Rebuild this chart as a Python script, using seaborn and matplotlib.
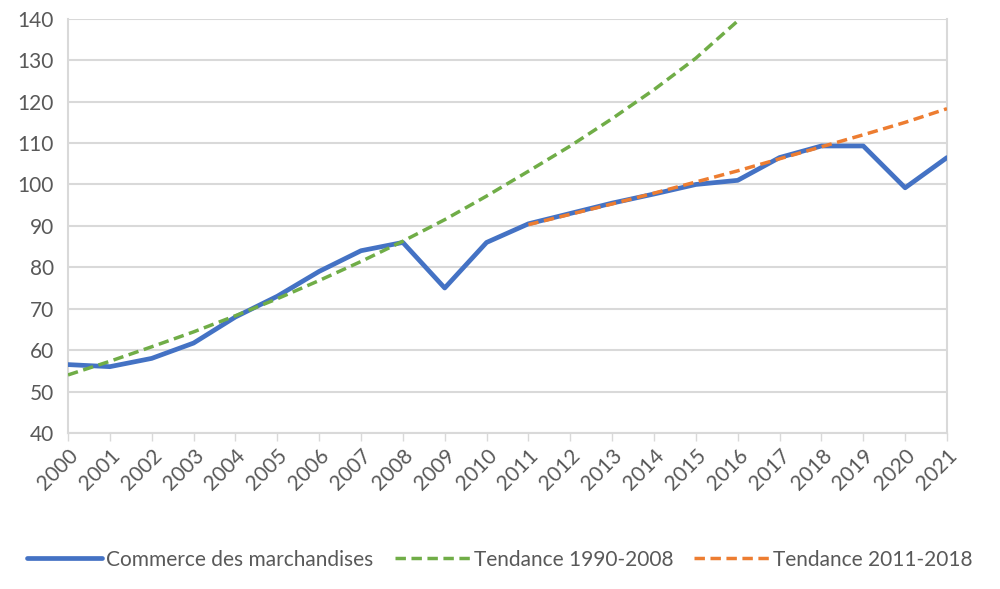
import matplotlib
matplotlib.use("Agg")
import matplotlib.pyplot as plt
import seaborn as sns
import pandas as pd

years = list(range(2000, 2022))
commerce = [56.5, 56.0, 58.0, 61.7, 68.0, 73.0, 79.0, 84.0, 86.0, 75.0, 86.0,
            90.5, 93.0, 95.5, 97.7, 100.0, 101.0, 106.5, 109.3, 109.3, 99.2, 106.5]

trend_1990_years = list(range(2000, 2017))
trend_1990 = [54.0, 57.3, 60.8, 64.4, 68.3, 72.4, 76.8, 81.4, 86.3, 91.5, 97.2,
              103.2, 109.3, 115.9, 122.9, 130.5, 139.5]

trend_2011_years = list(range(2011, 2022))
trend_2011 = [90.3, 92.8, 95.3, 97.9, 100.6, 103.3, 106.2, 109.1, 112.0, 115.0, 118.3]

blue = "#4472C4"
green = "#70AD47"
orange = "#ED7D31"
grey_text = "#595959"
grid_col = "#D9D9D9"

sns.set_theme(style="white")
plt.rcParams['font.family'] = ['Lato', 'DejaVu Sans']

df_main = pd.DataFrame({'year': years, 'value': commerce})
df_g = pd.DataFrame({'year': trend_1990_years, 'value': trend_1990})
df_o = pd.DataFrame({'year': trend_2011_years, 'value': trend_2011})

fig = plt.figure(figsize=(10, 5.89), dpi=100)
ax = fig.add_axes([0.068, 0.265, 0.879, 0.703])

dash = (0, (3.0, 1.6))
sns.lineplot(data=df_main, x='year', y='value', ax=ax, color=blue, linewidth=3.4,
             label='Commerce des marchandises', zorder=3)
sns.lineplot(data=df_g, x='year', y='value', ax=ax, color=green, linewidth=2.5,
             linestyle=dash, label='Tendance 1990-2008', zorder=4)
sns.lineplot(data=df_o, x='year', y='value', ax=ax, color=orange, linewidth=2.5,
             linestyle=dash, label='Tendance 2011-2018', zorder=4)

ax.set_xlim(2000, 2021)
ax.set_ylim(40, 140)
ax.set_yticks(range(40, 141, 10))
ax.set_xticks(years)
ax.set_xticklabels([str(y) for y in years], rotation=45, ha='right',
                   rotation_mode='anchor', fontsize=15, color=grey_text)
ax.tick_params(axis='y', labelsize=15, labelcolor=grey_text, length=0, pad=10)
ax.tick_params(axis='x', length=6, width=1, color=grid_col, direction='out', pad=3, bottom=True)
ax.grid(axis='y', color=grid_col, linewidth=1.5)
ax.set_axisbelow(True)
ax.set_xlabel('')
ax.set_ylabel('')
for side in ['left', 'right', 'bottom']:
    ax.spines[side].set_color(grid_col)
    ax.spines[side].set_linewidth(1.5)
ax.spines['top'].set_visible(False)

ax.get_legend().remove()
handles, labels = ax.get_legend_handles_labels()
fig.legend(handles, labels, loc='center', bbox_to_anchor=(0.5, 0.05), ncol=3,
           frameon=False, fontsize=15, handlelength=3.6, columnspacing=1.0,
           handletextpad=0.2, labelcolor=grey_text)

fig.savefig('out.png', dpi=100)
